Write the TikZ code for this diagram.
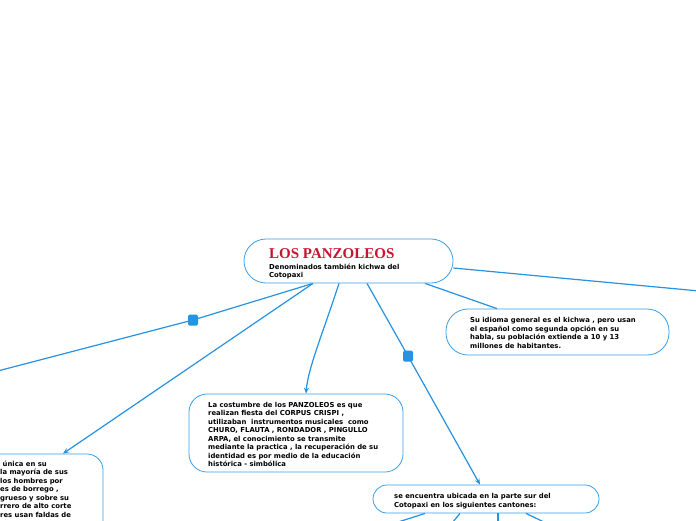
\documentclass[tikz,border=0pt]{standalone}
\usepackage{fontspec}
\setmainfont{DejaVu Sans}
\newfontfamily\titlefont{Liberation Serif}
\usetikzlibrary{arrows.meta,calc}
\definecolor{lineblue}{RGB}{38,146,226}
\definecolor{boxblue}{RGB}{58,160,232}
\definecolor{titlered}{RGB}{200,20,50}
\begin{document}
\begin{tikzpicture}[x=1pt,y=-1pt,
  box/.style={draw=boxblue,line width=0.8pt,rounded corners=#1,inner sep=0pt,fill=white},
  txt/.style={anchor=base west,inner sep=0pt,align=left,font=\bfseries\fontsize{6.85}{8.5}\selectfont,text=black},
  conn/.style={draw=lineblue,line width=1.2pt},
  arr/.style={conn,-{Stealth[length=6pt,width=5pt]}},
  marker/.style={fill=lineblue,rounded corners=1.5pt,minimum width=10pt,minimum height=11pt,inner sep=0pt}
]
\useasboundingbox (0,0) rectangle (696,520);
\clip (0,0) rectangle (696,520);
\fill[white] (0,0) rectangle (696,520);

% free ends
\coordinate (leftend) at (-10,373);
\coordinate (rightend) at (710,292);
\coordinate (b1) at (395,523);
\coordinate (b2) at (452,523);
\coordinate (b3) at (498,523);
\coordinate (b4) at (546,523);

% boxes
\node[box=22pt,minimum width=209pt,minimum height=44pt] (main) at (348.5,261) {};
\node[box=22pt,minimum width=223pt,minimum height=46pt] (idioma) at (557.5,332) {};
\node[box=18pt,minimum width=214pt,minimum height=78pt] (costumbre) at (296,433) {};
\node[box=16pt,minimum width=140pt,minimum height=140pt] (vestido) at (33,524) {};
\node[box=14pt,minimum width=226pt,minimum height=28pt] (ubicada) at (486,499) {};

% marker positions
\coordinate (m1) at (193,320);
\coordinate (m2) at (408,356);

% connectors from main
\draw[conn] ([yshift=-7pt]main.east) -- (rightend);
\draw[conn] ([xshift=76.5pt]main.south) -- ([xshift=-60.5pt]idioma.north);
\draw[arr] ([xshift=18.5pt]main.south) -- (m2) -- ([xshift=-6pt]ubicada.north);
\draw[arr] ([xshift=-9.5pt]main.south) .. controls (324,330) and (308,368) .. ([xshift=10pt]costumbre.north);
\draw[arr] ([xshift=-35.5pt]main.south) -- ([xshift=30pt]vestido.north);
\draw[conn] ([xshift=-35.5pt]main.south) -- (m1) -- (leftend);
\node[marker] (mk1) at (m1) {};
\node[marker] (mk2) at (m2) {};

% bottom connectors of ubicada
\draw[conn] ([xshift=-61pt]ubicada.south) -- (b1);
\draw[conn] ([xshift=-26pt]ubicada.south) -- (b2);
\draw[conn] ([xshift=12pt]ubicada.south) -- (b3);
\draw[conn] ([xshift=40pt]ubicada.south) -- (b4);

% texts (base anchor = baseline of last line)
\node[anchor=base west,inner sep=0pt,font=\titlefont\bfseries\fontsize{15}{15}\selectfont,text=titlered] (title) at (269,258) {LOS PANZOLEOS};
\node[txt] (sub) at (269,277.5) {Denominados también kichwa del\\Cotopaxi};
\node[txt] (t2) at (470,348) {Su idioma general es el kichwa , pero usan\\el español como segunda opción en su\\habla, su población extiende a 10 y 13\\millones de habitantes.};
\node[txt] (t3) at (208,466.5) {La costumbre de los PANZOLEOS es que\\realizan fiesta del CORPUS CRISPI ,\\utilizaban\ \ instrumentos musicales\ \ como\\CHURO, FLAUTA , RONDADOR , PINGULLO\\ARPA, el conocimiento se transmite\\mediante la practica , la recuperación de su\\identidad es por medio de la educación\\histórica - simbólica};
\node[txt] (t4) at (0,517) {\hspace{2.5pt}única en su\\la mayoría de sus\\los hombres por\\es de borrego ,\\grueso y sobre su\\rrero de alto corte\\res usan faldas de};
\node[txt] (t5) at (394,507) {se encuentra ubicada en la parte sur del\\Cotopaxi en los siguientes cantones:};
\end{tikzpicture}
\end{document}
